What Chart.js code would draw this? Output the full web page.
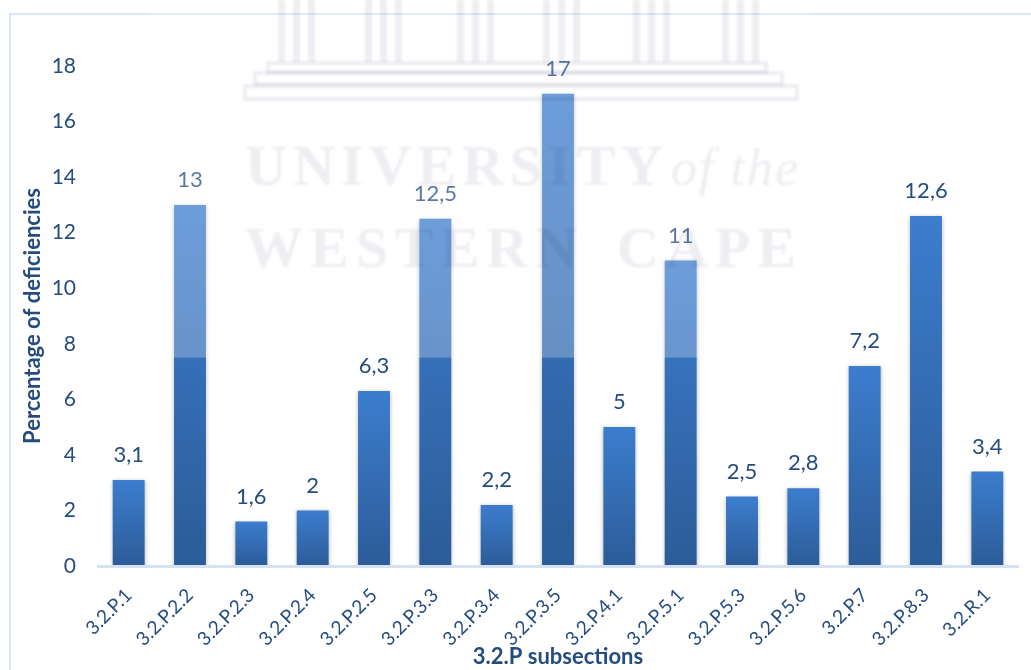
<!DOCTYPE html>
<html>
<head>
<meta charset="utf-8">
<title>Deficiencies per 3.2.P subsection</title>
<script src="https://cdn.jsdelivr.net/npm/chart.js@4/dist/chart.umd.min.js"></script>
<style>
  body { margin: 0; background: #fff; }
  canvas { display: block; }
</style>
</head>
<body>
<canvas id="myChart" width="1031" height="670"></canvas>
<script>
const categories = ['3.2.P.1', '3.2.P.2.2', '3.2.P.2.3', '3.2.P.2.4', '3.2.P.2.5', '3.2.P.3.3', '3.2.P.3.4', '3.2.P.3.5',
  '3.2.P.4.1', '3.2.P.5.1', '3.2.P.5.3', '3.2.P.5.6', '3.2.P.7', '3.2.P.8.3', '3.2.R.1'];
const deficiencies = [3.1, 13, 1.6, 2, 6.3, 12.5, 2.2, 17, 5, 11, 2.5, 2.8, 7.2, 12.6, 3.4];

const textColor = '#254c80';
const fontName = 'Lato';

// the frame round the chart, only the top and left edges show
const framePlugin = {
  id: 'frame',
  beforeDraw(chart) {
    const ctx = chart.ctx;
    ctx.save();
    ctx.fillStyle = '#fff';
    ctx.fillRect(0, 0, chart.width, chart.height);
    ctx.strokeStyle = '#dbe7f7';
    ctx.lineWidth = 2;
    ctx.beginPath();
    ctx.moveTo(10, chart.height);
    ctx.lineTo(10, 14);
    ctx.lineTo(chart.width, 14);
    ctx.stroke();
    ctx.restore();
  }
};

const shadowPlugin = {
  id: 'barShadow',
  beforeDatasetDraw(chart) {
    const ctx = chart.ctx;
    ctx.save();
    ctx.shadowColor = 'rgba(0,0,0,0.3)';
    ctx.shadowBlur = 4;
    ctx.shadowOffsetY = 1;
  },
  afterDatasetDraw(chart) {
    chart.ctx.restore();
  }
};

const labelPlugin = {
  id: 'valueLabels',
  afterDatasetsDraw(chart) {
    const ctx = chart.ctx;
    const bars = chart.getDatasetMeta(0).data;
    ctx.save();
    ctx.font = '22px ' + fontName;
    ctx.fillStyle = textColor;
    ctx.textAlign = 'center';
    ctx.textBaseline = 'middle';
    bars.forEach((bar, i) => {
      ctx.fillText(String(deficiencies[i]).replace('.', ','), bar.x, bar.y - 25);
    });
    ctx.restore();
  }
};

// university watermark lying over the top part of the chart
const watermarkPlugin = {
  id: 'watermark',
  afterDraw(chart) {
    const ctx = chart.ctx;
    const fadeY = chart.scales.y.getPixelForValue(7.5);
    ctx.save();
    ctx.fillStyle = 'rgba(255,255,255,0.25)';
    ctx.fillRect(150, 0, 660, fadeY);

    ctx.globalCompositeOperation = 'multiply';
    ctx.filter = 'blur(1.2px)';
    ctx.fillStyle = '#eeeef3';
    ctx.strokeStyle = '#eeeef3';

    [278, 365, 457, 543, 633, 722].forEach(x => {
      [0, 15, 30].forEach(dx => ctx.fillRect(x + dx, 0, 7, 62));
    });

    ctx.lineWidth = 4;
    ctx.strokeRect(268, 63, 498, 9);
    ctx.strokeRect(255, 73, 527, 11);
    ctx.strokeRect(245, 86, 552, 13);

    ctx.textBaseline = 'alphabetic';
    ctx.font = 'bold 58px "Liberation Serif"';
    ctx.letterSpacing = '6px';
    ctx.fillText('UNIVERSITY', 245, 185);
    ctx.letterSpacing = '7px';
    ctx.fillText('WESTERN', 245, 267);
    ctx.letterSpacing = '7px';
    ctx.fillText('CAPE', 617, 267);
    ctx.letterSpacing = '2px';
    ctx.font = 'italic 52px "Liberation Serif"';
    ctx.fillText('of the', 671, 185);
    ctx.restore();
  }
};

new Chart(document.getElementById('myChart'), {
  type: 'bar',
  data: {
    labels: categories,
    datasets: [{
      data: deficiencies,
      backgroundColor(context) {
        const chart = context.chart;
        const yScale = chart.scales.y;
        const top = yScale ? yScale.getPixelForValue(deficiencies[context.dataIndex]) : NaN;
        const bottom = yScale ? yScale.getPixelForValue(0) : NaN;
        // scales have no size yet on the first pass
        if (!Number.isFinite(top) || !Number.isFinite(bottom)) return '#3c7dce';
        const g = chart.ctx.createLinearGradient(0, top, 0, bottom);
        g.addColorStop(0, '#3c7dce');
        g.addColorStop(1, '#2c5c98');
        return g;
      },
      categoryPercentage: 1,
      barPercentage: 0.52
    }]
  },
  options: {
    responsive: false,
    animation: false,
    layout: { padding: { left: 0, right: 13, top: 66, bottom: 0 } },
    plugins: {
      legend: { display: false },
      tooltip: { enabled: false }
    },
    scales: {
      x: {
        afterFit(scale) { scale.height = 104; },
        grid: { display: false },
        border: { color: '#d5e2f3', width: 3, z: 1 },
        ticks: {
          color: textColor,
          font: { family: fontName, size: 19 },
          autoSkip: false,
          minRotation: 45,
          maxRotation: 45,
          padding: 10
        },
        title: {
          display: true,
          text: '3.2.P subsections',
          color: textColor,
          font: { family: fontName, size: 22, weight: 'bold' },
          padding: { top: 0, bottom: 0 }
        }
      },
      y: {
        min: 0,
        max: 18,
        afterFit(scale) { scale.width = 98; },
        grid: { display: false, drawTicks: false },
        border: { display: false },
        ticks: {
          stepSize: 2,
          color: textColor,
          font: { family: fontName, size: 21 },
          padding: 22
        },
        title: {
          display: true,
          text: 'Percentage of deficiencies',
          color: textColor,
          font: { family: fontName, size: 22, weight: 'bold' },
          padding: { top: 20, bottom: 0 }
        }
      }
    }
  },
  plugins: [framePlugin, shadowPlugin, labelPlugin, watermarkPlugin]
});
</script>
</body>
</html>
